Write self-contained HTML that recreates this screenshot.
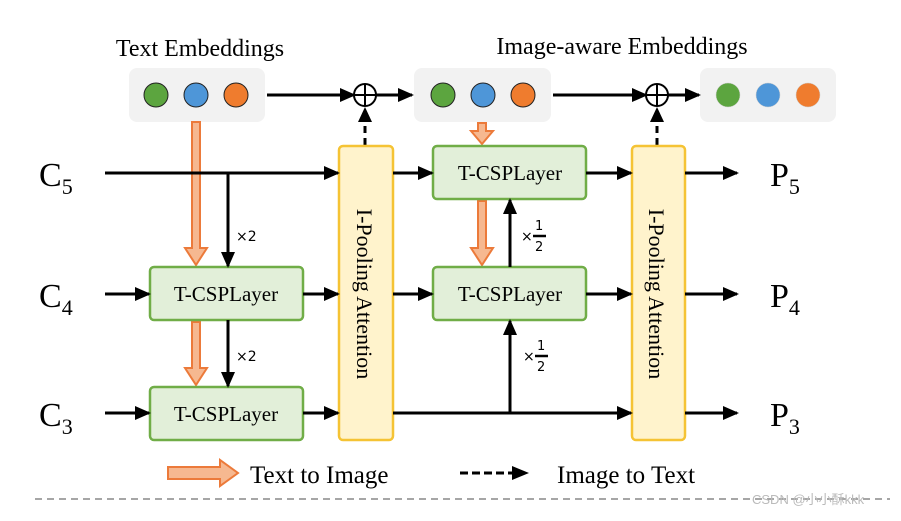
<!DOCTYPE html>
<html><head><style>body{margin:0;background:#fff}</style></head><body>
<svg width="901" height="516" viewBox="0 0 901 516" xmlns="http://www.w3.org/2000/svg" font-family="Liberation Serif, serif">
<defs>
<marker id="a" markerWidth="16" markerHeight="14" refX="14" refY="7" orient="auto" markerUnits="userSpaceOnUse"><path d="M0,0 L16,7 L0,14 z" fill="#000"/></marker>
</defs>
<rect width="901" height="516" fill="#fff"/>
<text x="200" y="56" font-size="24" text-anchor="middle">Text Embeddings</text>
<text x="622" y="54" font-size="24" text-anchor="middle">Image-aware Embeddings</text>
<g fill="#f2f2f2">
<rect x="129" y="68" width="136" height="54" rx="8"/>
<rect x="414" y="68" width="137" height="54" rx="8"/>
<rect x="700" y="68" width="136" height="54" rx="8"/>
</g>
<g stroke="#222" stroke-width="1">
<circle cx="156" cy="95" r="12" fill="#5ca53f"/><circle cx="196" cy="95" r="12" fill="#4e96d8"/><circle cx="236" cy="95" r="12" fill="#ef7c2e"/>
<circle cx="443" cy="95" r="12" fill="#5ca53f"/><circle cx="483" cy="95" r="12" fill="#4e96d8"/><circle cx="523" cy="95" r="12" fill="#ef7c2e"/>
</g>
<g stroke="#ccc" stroke-width="0.5">
<circle cx="728" cy="95" r="12" fill="#5ca53f"/><circle cx="768" cy="95" r="12" fill="#4e96d8"/><circle cx="808" cy="95" r="12" fill="#ef7c2e"/>
</g>
<g stroke="#000" stroke-width="3" fill="none">
<line x1="267" y1="95" x2="354" y2="95" marker-end="url(#a)"/>
<line x1="376" y1="95" x2="412" y2="95" marker-end="url(#a)"/>
<line x1="553" y1="95" x2="646" y2="95" marker-end="url(#a)"/>
<line x1="668" y1="95" x2="699" y2="95" marker-end="url(#a)"/>
</g>
<g stroke="#000" stroke-width="2" fill="#fff">
<circle cx="365" cy="95" r="11"/><line x1="354" y1="95" x2="376" y2="95"/><line x1="365" y1="84" x2="365" y2="106"/>
<circle cx="657" cy="95" r="11"/><line x1="646" y1="95" x2="668" y2="95"/><line x1="657" y1="84" x2="657" y2="106"/>
</g>
<g stroke="#000" stroke-width="3" stroke-dasharray="7,5">
<line x1="365" y1="145" x2="365" y2="120"/><line x1="657" y1="145" x2="657" y2="120"/>
</g>
<path d="M358,122 L365,107 L372,122z M650,122 L657,107 L664,122z"/>
<g fill="#f6b890" stroke="#ec7a3a" stroke-width="2">
<path d="M192,122 H200 V248 H207 L196,265 L185,248 H192 Z"/>
<path d="M192,322 H200 V368 H207 L196,385 L185,368 H192 Z"/>
<path d="M478,123 H486 V131 H493 L482,144 L471,131 H478 Z"/>
<path d="M478,201 H486 V248 H493 L482,265 L471,248 H478 Z"/>
<path d="M168,467 H220 V460 L238,473 L220,486 V479 H168 Z"/>
</g>
<g fill="#fff3cc" stroke="#f5c334" stroke-width="2.5">
<rect x="339" y="146" width="54" height="294" rx="4"/>
<rect x="632" y="146" width="53" height="294" rx="4"/>
</g>
<text transform="translate(357,294) rotate(90)" font-size="22" text-anchor="middle">I-Pooling Attention</text>
<text transform="translate(649,294) rotate(90)" font-size="22" text-anchor="middle">I-Pooling Attention</text>
<g fill="#e2efd9" stroke="#70ad47" stroke-width="2.5">
<rect x="150" y="267" width="153" height="53" rx="4"/>
<rect x="150" y="387" width="153" height="53" rx="4"/>
<rect x="433" y="146" width="153" height="53" rx="4"/>
<rect x="433" y="267" width="153" height="53" rx="4"/>
</g>
<g font-size="21" text-anchor="middle">
<text x="226" y="301">T-CSPLayer</text><text x="226" y="421">T-CSPLayer</text>
<text x="510" y="180">T-CSPLayer</text><text x="510" y="301">T-CSPLayer</text>
</g>
<g stroke="#000" stroke-width="3" fill="none" marker-end="url(#a)">
<line x1="105" y1="173" x2="338" y2="173"/>
<polyline points="228,173 228,266"/>
<line x1="105" y1="294" x2="149" y2="294"/>
<line x1="105" y1="413" x2="149" y2="413"/>
<line x1="303" y1="294" x2="338" y2="294"/>
<line x1="303" y1="413" x2="338" y2="413"/>
<line x1="228" y1="320" x2="228" y2="386"/>
<line x1="393" y1="173" x2="432" y2="173"/>
<line x1="393" y1="294" x2="432" y2="294"/>
<line x1="393" y1="413" x2="631" y2="413"/>
<line x1="510" y1="413" x2="510" y2="321"/>
<line x1="510" y1="267" x2="510" y2="200"/>
<line x1="586" y1="173" x2="631" y2="173"/>
<line x1="586" y1="294" x2="631" y2="294"/>
<line x1="685" y1="173" x2="737" y2="173"/>
<line x1="685" y1="294" x2="737" y2="294"/>
<line x1="685" y1="413" x2="737" y2="413"/>
</g>
<g font-family="DejaVu Sans, sans-serif" font-size="14">
<text x="236" y="241">×2</text><text x="236" y="361">×2</text>
<text x="521" y="241">×</text><text x="535" y="230" font-size="13">1</text><line x1="533" y1="236" x2="546" y2="236" stroke="#000" stroke-width="2.5"/><text x="535" y="251" font-size="13">2</text>
<text x="523" y="361">×</text><text x="537" y="350" font-size="13">1</text><line x1="535" y1="356" x2="548" y2="356" stroke="#000" stroke-width="2.5"/><text x="537" y="371" font-size="13">2</text>
</g>
<g font-size="34">
<text x="39" y="186">C<tspan font-size="22" dy="8">5</tspan></text>
<text x="39" y="307">C<tspan font-size="22" dy="8">4</tspan></text>
<text x="39" y="426">C<tspan font-size="22" dy="8">3</tspan></text>
<text x="770" y="186">P<tspan font-size="22" dy="8">5</tspan></text>
<text x="770" y="307">P<tspan font-size="22" dy="8">4</tspan></text>
<text x="770" y="426">P<tspan font-size="22" dy="8">3</tspan></text>
</g>
<text x="250" y="483" font-size="25">Text to Image</text>
<line x1="460" y1="473" x2="514" y2="473" stroke="#000" stroke-width="3" stroke-dasharray="8,4"/>
<path d="M512,466 L529,473 L512,480z"/>
<text x="557" y="483" font-size="25">Image to Text</text>
<line x1="35" y1="499" x2="890" y2="499" stroke="#888" stroke-width="1.5" stroke-dasharray="7,5"/>
<text x="752" y="504" font-family="Liberation Sans, Noto Sans CJK SC, sans-serif" font-size="13" fill="#bbb">CSDN @小小酥kkk</text>
</svg>
</body></html>
